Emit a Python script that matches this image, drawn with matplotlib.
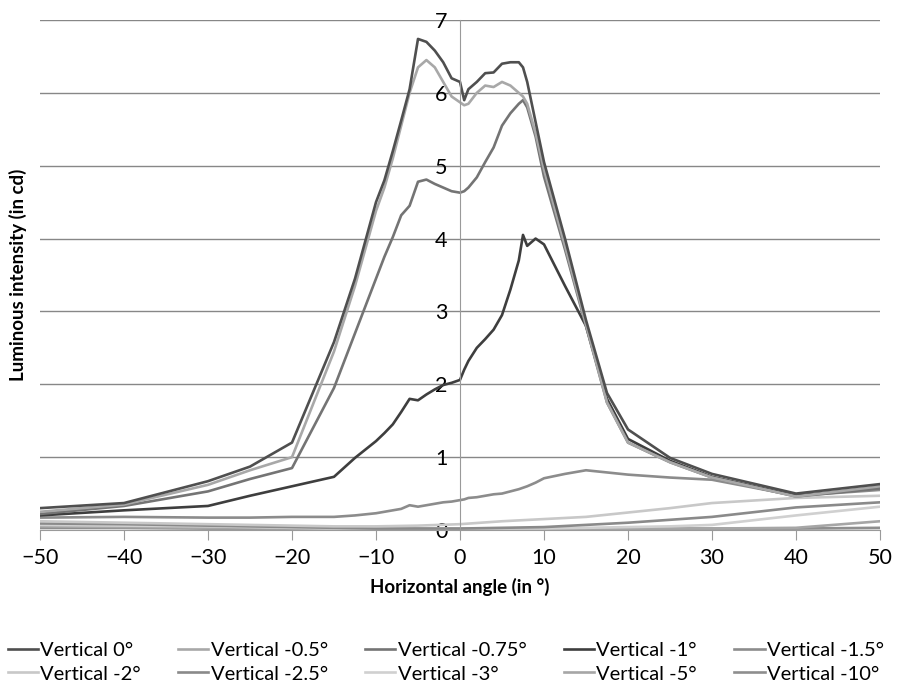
import numpy as np
import matplotlib
matplotlib.use("Agg")
import matplotlib.pyplot as plt

plt.rcParams['font.family'] = ['Lato', 'DejaVu Sans']

# Fine angle grid (used by the high-intensity series)
angles = [-50, -40, -30, -25, -20, -15, -12.5, -10, -9, -8, -7, -6, -5, -4, -3, -2, -1,
          0, 0.5, 1, 2, 3, 4, 5, 6, 7, 7.5, 8, 9, 10, 12.5, 15, 17.5, 20, 25, 30, 40, 50]
# Coarse angle grid (used by the low-intensity series)
angles_coarse = [-50, -40, -30, -25, -20, -15, -10, -5, 0, 5, 10, 15, 20, 25, 30, 40, 50]

v0 = [0.30, 0.37, 0.67, 0.87, 1.20, 2.58, 3.45, 4.50, 4.80, 5.20, 5.62, 6.05, 6.74, 6.70, 6.58,
      6.42, 6.20, 6.15, 5.90, 6.05, 6.15, 6.27, 6.28, 6.40, 6.42, 6.42, 6.35, 6.15, 5.60, 5.05,
      4.00, 2.88, 1.88, 1.38, 0.99, 0.77, 0.50, 0.63]
v05 = [0.25, 0.35, 0.62, 0.82, 1.00, 2.45, 3.35, 4.38, 4.70, 5.10, 5.55, 6.00, 6.35, 6.45, 6.35,
       6.15, 5.95, 5.87, 5.83, 5.85, 6.00, 6.10, 6.08, 6.15, 6.10, 6.00, 5.95, 5.85, 5.45, 4.95,
       3.90, 2.82, 1.75, 1.20, 0.93, 0.72, 0.46, 0.60]
v075 = [0.22, 0.33, 0.53, 0.70, 0.85, 1.95, 2.70, 3.45, 3.75, 4.02, 4.32, 4.45, 4.78, 4.81, 4.75,
        4.70, 4.65, 4.63, 4.65, 4.70, 4.84, 5.05, 5.25, 5.55, 5.72, 5.85, 5.90, 5.80, 5.40, 4.85,
        3.85, 2.80, 1.75, 1.20, 0.93, 0.72, 0.46, 0.57]
v1 = [0.20, 0.27, 0.33, 0.47, 0.60, 0.73, 0.99, 1.22, 1.33, 1.45, 1.62, 1.80, 1.78, 1.86, 1.93,
      1.99, 2.02, 2.06, 2.20, 2.32, 2.50, 2.62, 2.75, 2.95, 3.30, 3.70, 4.05, 3.90, 4.00, 3.92,
      3.35, 2.80, 1.80, 1.25, 0.95, 0.73, 0.47, 0.58]
v15 = [0.17, 0.18, 0.17, 0.17, 0.18, 0.18, 0.20, 0.23, 0.25, 0.27, 0.29, 0.34, 0.32, 0.34, 0.36,
       0.38, 0.39, 0.41, 0.42, 0.44, 0.45, 0.47, 0.49, 0.50, 0.53, 0.56, 0.58, 0.60, 0.65, 0.71,
       0.77, 0.82, 0.79, 0.76, 0.72, 0.69, 0.47, 0.55]

v2 = [0.12, 0.10, 0.08, 0.07, 0.06, 0.05, 0.05, 0.06, 0.08, 0.12, 0.15, 0.18, 0.24, 0.30, 0.37, 0.44, 0.47]
v25 = [0.09, 0.08, 0.06, 0.05, 0.04, 0.03, 0.02, 0.02, 0.02, 0.03, 0.04, 0.07, 0.10, 0.14, 0.18, 0.31, 0.38]
v3 = [0.07, 0.06, 0.05, 0.04, 0.03, 0.02, 0.02, 0.02, 0.02, 0.02, 0.02, 0.03, 0.04, 0.05, 0.07, 0.20, 0.32]
v5 = [0.05, 0.04, 0.03, 0.03, 0.02, 0.02, 0.02, 0.02, 0.02, 0.02, 0.02, 0.02, 0.02, 0.02, 0.02, 0.03, 0.12]
v10 = [0.03, 0.03, 0.02, 0.02, 0.02, 0.02, 0.02, 0.02, 0.02, 0.02, 0.02, 0.02, 0.02, 0.02, 0.02, 0.02, 0.03]

labels = ["Vertical 0°", "Vertical -0.5°", "Vertical -0.75°", "Vertical -1°", "Vertical -1.5°",
          "Vertical -2°", "Vertical -2.5°", "Vertical -3°", "Vertical -5°", "Vertical -10°"]
colors = ["#4f4f4f", "#a8a8a8", "#747474", "#3e3e3e", "#8c8c8c",
          "#c8c8c8", "#8a8a8a", "#d0d0d0", "#a6a6a6", "#8e8e8e"]
series = [(angles, v0), (angles, v05), (angles, v075), (angles, v1), (angles, v15),
          (angles_coarse, v2), (angles_coarse, v25), (angles_coarse, v3),
          (angles_coarse, v5), (angles_coarse, v10)]

fig = plt.figure(figsize=(8.97, 6.81), dpi=100)
ax = fig.add_axes([40/897, 1-530/681, 840/897, 510/681])

order = [9, 8, 7, 6, 5, 4, 3, 2, 1, 0]
hd = {}
for i in order:
    x, y = series[i]
    h, = ax.plot(x, y, color=colors[i], lw=1.9, label=labels[i], solid_joinstyle='round')
    hd[i] = h

ax.set_xlim(-50, 50)
ax.set_ylim(0, 7)
ax.set_xticks(np.arange(-50, 51, 10))
ax.set_yticks(np.arange(0, 8, 1))
ax.yaxis.grid(True, color="#878787", lw=1)
ax.set_axisbelow(True)
for s in ["top", "right"]:
    ax.spines[s].set_visible(False)
ax.spines["left"].set_position(("data", 0))
ax.spines["left"].set_color("#9a9a9a")
ax.spines["bottom"].set_color("#9a9a9a")
ax.tick_params(axis="y", length=0, pad=9, labelsize=15.5)
ax.tick_params(axis="x", length=7, color="#9a9a9a", direction="out", pad=6, labelsize=15.5)

ax.set_xlabel("Horizontal angle (in °)", fontsize=13.5, fontweight="bold", labelpad=7)
fig.text(18/897, 1-275/681, "Luminous intensity (in cd)", rotation=90, fontsize=13.5,
         fontweight="bold", ha="center", va="center")

leg_order = [0, 5, 1, 6, 2, 7, 3, 8, 4, 9]
fig.legend([hd[i] for i in leg_order], [labels[i] for i in leg_order],
           loc="lower center", bbox_to_anchor=(0.497, -0.02), ncol=5, frameon=False,
           fontsize=14.5, handlelength=1.5, handletextpad=0.12, columnspacing=1.85,
           labelspacing=0.3, borderaxespad=0.2)

fig.savefig("out.png", dpi=100)
